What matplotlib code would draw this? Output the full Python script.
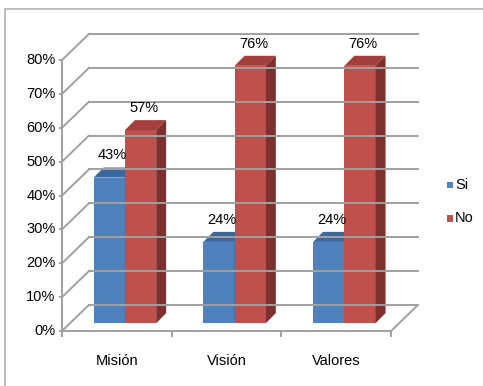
import matplotlib
matplotlib.use('Agg')
import matplotlib.pyplot as plt
from matplotlib.patches import Polygon, Rectangle

plt.rcParams['font.family'] = ['Liberation Sans Narrow', 'Liberation Sans', 'DejaVu Sans']

categorias = ['Misión', 'Visión', 'Valores']
si = [43, 24, 24]
no = [57, 76, 76]
series = ['Si', 'No']
yticks = [0, 10, 20, 30, 40, 50, 60, 70, 80]

# colores tipo Excel: frente, tapa, lateral
colores = {
    'Si': ('#4F81BD', '#3C679A', '#2F5380'),
    'No': ('#C0504D', '#A3403D', '#7E302E'),
}

W, H = 483, 386
fig = plt.figure(figsize=(W / 100, H / 100), dpi=100)

# marco exterior (solo se ven el borde izquierdo y el superior)
fig.patches.append(Rectangle((5 / W, -0.2), 1, 1.2 - 9 / H, transform=fig.transFigure,
                             fill=False, edgecolor='#B0B0B0', lw=1.2))

ax = fig.add_axes([62 / W, 1 - 331 / H, (418 - 62) / W, (331 - 34) / H])
dx = 27 / 110          # profundidad de la pared (en categorias)
dy = 26 / 3.375        # profundidad de la pared (en %)
ax.set_xlim(-0.5, 2.5 + dx)
ax.set_ylim(0, 80 + dy)
ax.axis('off')

grid = '#A0A0A0'
lw = 1.4
fs = 10.5
# rejilla de la pared del fondo y pared izquierda
for v in yticks:
    ax.plot([-0.5 + dx, 2.5 + dx], [v + dy, v + dy], color=grid, lw=lw, clip_on=False)
    ax.plot([-0.5, -0.5 + dx], [v, v + dy], color=grid, lw=lw, clip_on=False)
    ax.plot([-0.52, -0.5], [v, v], color=grid, lw=lw, clip_on=False)
    ax.text(-0.56, v, f'{v}%', ha='right', va='center', fontsize=fs)
# eje vertical frontal y suelo
ax.plot([-0.5, -0.5], [0, 80], color=grid, lw=lw, clip_on=False)
ax.plot([-0.5, 2.5], [0, 0], color=grid, lw=lw, clip_on=False)
ax.plot([2.5, 2.5 + dx], [0, dy], color=grid, lw=lw, clip_on=False)
for b in [-0.5, 0.5, 1.5, 2.5]:
    ax.plot([b, b], [0, -1.5], color=grid, lw=lw, clip_on=False)
for i, c in enumerate(categorias):
    ax.text(i, -9, c, ha='center', va='center', fontsize=fs)

# barras 3D
w = 0.285
f0 = 0.3               # posicion de la cara frontal dentro de la profundidad
bx, by = 10 / 110, 10 / 3.375
for k, (nombre, vals) in enumerate([('Si', si), ('No', no)]):
    front, top, side = colores[nombre]
    for i, v in enumerate(vals):
        x0 = i - w + k * w + f0 * dx
        x1 = x0 + w
        y0 = f0 * dy
        y1 = y0 + v
        ax.add_patch(Polygon([(x0, y0), (x1, y0), (x1, y1), (x0, y1)],
                             closed=True, facecolor=front, edgecolor='none'))
        ax.add_patch(Polygon([(x0, y1), (x1, y1), (x1 + bx, y1 + by), (x0 + bx, y1 + by)],
                             closed=True, facecolor=top, edgecolor='none'))
        ax.add_patch(Polygon([(x1, y0), (x1 + bx, y0 + by), (x1 + bx, y1 + by), (x1, y1)],
                             closed=True, facecolor=side, edgecolor='none'))
        ax.text((x0 + x1) / 2 + bx / 3, y1 + by + 3.6, f'{v}%', ha='center',
                va='center', fontsize=fs, clip_on=False)

# leyenda
for k, nombre in enumerate(series):
    yy = 1 - (185 + 33 * k) / H
    fig.patches.append(Rectangle((447 / W, yy - 3.5 / H), 6 / W, 7 / H,
                                 transform=fig.transFigure,
                                 facecolor=colores[nombre][0], edgecolor='none'))
    fig.text(455 / W, yy, nombre, ha='left', va='center', fontsize=fs)

fig.savefig('out.png', dpi=100)
